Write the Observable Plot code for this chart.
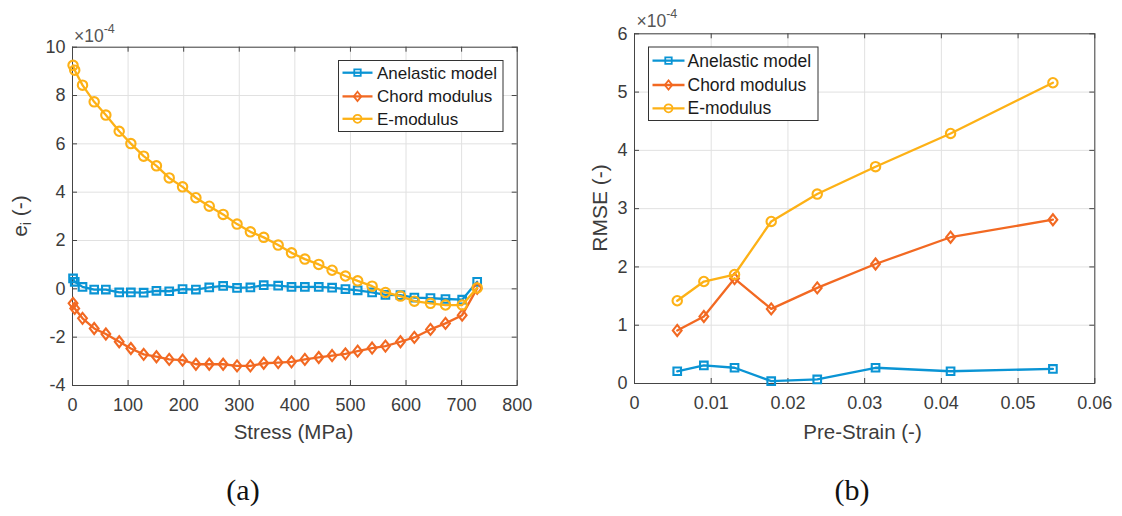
<!DOCTYPE html>
<html><head><meta charset="utf-8">
<script src="https://cdn.jsdelivr.net/npm/d3@7"></script>
<script src="https://cdn.jsdelivr.net/npm/@observablehq/plot@0.6"></script>
<style>
body{margin:0;background:#fff;}
#wrap{position:relative;width:1122px;height:516px;overflow:hidden;background:#fff;}
#wrap svg{position:absolute;}
</style></head><body><div id="wrap"></div>
<script>
// ---------- data ----------
const seriesNames = ["Anelastic model", "Chord modulus", "E-modulus"];
const seriesColors = ["#0a94d4", "#f26922", "#fdb116"];

// panel (a): e_i (x 1e-4) vs stress (MPa)
const stress = [1, 4, 18, 39, 60, 84, 105, 128, 151, 174, 198, 222, 246, 271, 296, 320,
  344, 370, 394, 418, 443, 467, 491, 513, 539, 563, 590, 615, 644, 671, 701, 728];
const eAnelastic = [0.43, 0.29, 0.08, -0.03, -0.03, -0.15, -0.15, -0.16, -0.08, -0.10, -0.01, -0.03, 0.06, 0.12, 0.04, 0.06,
  0.15, 0.13, 0.08, 0.08, 0.08, 0.05, -0.01, -0.06, -0.15, -0.25, -0.26, -0.36, -0.38, -0.42, -0.45, 0.29];
const eChord = [-0.60, -0.81, -1.22, -1.64, -1.87, -2.19, -2.47, -2.71, -2.81, -2.92, -2.95, -3.12, -3.12, -3.12, -3.19, -3.19,
  -3.08, -3.05, -3.02, -2.92, -2.84, -2.76, -2.69, -2.58, -2.45, -2.37, -2.19, -2.01, -1.68, -1.43, -1.09, 0.02];
const eEmod = [9.25, 9.05, 8.43, 7.74, 7.19, 6.52, 6.01, 5.49, 5.09, 4.59, 4.22, 3.77, 3.42, 3.08, 2.68, 2.36,
  2.13, 1.81, 1.49, 1.23, 1.01, 0.77, 0.53, 0.33, 0.11, -0.15, -0.30, -0.51, -0.60, -0.67, -0.67, 0.04];

// panel (b): RMSE (x 1e-4) vs pre-strain
const preStrain = [0.00557, 0.00904, 0.01304, 0.01782, 0.02382, 0.03142, 0.0412, 0.05454];
const rmseAnelastic = [0.21, 0.31, 0.27, 0.04, 0.07, 0.27, 0.21, 0.25];
const rmseChord = [0.91, 1.15, 1.80, 1.28, 1.64, 2.05, 2.51, 2.81];
const rmseEmod = [1.42, 1.75, 1.87, 2.78, 3.25, 3.72, 4.29, 5.16];

// ticks
const xTicksA = [0, 100, 200, 300, 400, 500, 600, 700, 800];
const yTicksA = [-4, -2, 0, 2, 4, 6, 8, 10];
const xTicksB = [0, 0.01, 0.02, 0.03, 0.04, 0.05, 0.06];
const yTicksB = [0, 1, 2, 3, 4, 5, 6];

// labels
const xLabelA = "Stress (MPa)";
const xLabelB = "Pre-Strain (-)";
const yLabelB = "RMSE (-)";
const captions = ["(a)", "(b)"];

// ---------- symbols ----------
const squareSym = {draw(ctx) { const s = 3.8; ctx.rect(-s, -s, 2 * s, 2 * s); }};
const diamondSym = {draw(ctx) { const h = 5.5, w = 4.4; ctx.moveTo(0, -h); ctx.lineTo(w, 0); ctx.lineTo(0, h); ctx.lineTo(-w, 0); ctx.closePath(); }};
const circleSym = {draw(ctx) { const r = 4.7; ctx.moveTo(r, 0); ctx.arc(0, 0, r, 0, 2 * Math.PI); }};
const symbols = [squareSym, diamondSym, circleSym];

const axisColor = "#454545";
const textColor = "#3c3c3c";
const font = "'Liberation Sans', Arial, Helvetica, sans-serif";
const fmt = d => String(d);

function toRows(xs, ys) { return xs.map((x, i) => ({x, y: ys[i]})); }

function panel({width, height, ml, mr, mt, mb, xd, yd, xt, yt, ys, xs}) {
  const pw = width - ml - mr, ph = height - mt - mb, tk = 5;
  const marks = [
    Plot.gridX(xt, {stroke: "#e1e1e1", strokeOpacity: 1}),
    Plot.gridY(yt, {stroke: "#e1e1e1", strokeOpacity: 1}),
    Plot.axisX(xt, {tickSize: 0, tickPadding: 13, tickFormat: fmt, fill: textColor}),
    Plot.axisY(yt, {tickSize: 0, tickPadding: 7, tickFormat: fmt, fill: textColor}),
    Plot.tickX(xt, {insetTop: ph - tk, stroke: axisColor}),
    Plot.tickX(xt, {insetBottom: ph - tk, stroke: axisColor}),
    Plot.tickY(yt, {insetRight: pw - tk, stroke: axisColor}),
    Plot.tickY(yt, {insetLeft: pw - tk, stroke: axisColor}),
    Plot.frame({stroke: axisColor})
  ];
  ys.forEach((vals, i) => {
    const rows = toRows(xs, vals);
    marks.push(Plot.line(rows, {x: "x", y: "y", stroke: seriesColors[i], strokeWidth: 2.3}));
    marks.push(Plot.dot(rows, {x: "x", y: "y", symbol: symbols[i], r: 4, stroke: seriesColors[i], strokeWidth: 2.1, fill: "none"}));
  });
  return Plot.plot({
    width, height, marginLeft: ml, marginRight: mr, marginTop: mt, marginBottom: mb,
    x: {domain: xd, label: null},
    y: {domain: yd, label: null},
    style: {fontFamily: font, fontSize: "18px", color: textColor, background: "transparent", overflow: "visible"},
    marks
  });
}

const wrap = document.getElementById("wrap");

const pA = panel({width: 560, height: 430, ml: 72, mr: 43.3, mt: 46.7, mb: 45,
  xd: [0, 800], yd: [-4, 10], xt: xTicksA, yt: yTicksA,
  xs: stress, ys: [eAnelastic, eChord, eEmod]});
pA.style.left = "0px"; pA.style.top = "0px";
wrap.appendChild(pA);

const pB = panel({width: 552, height: 430, ml: 64, mr: 27.7, mt: 33.3, mb: 47,
  xd: [0, 0.06], yd: [0, 6], xt: xTicksB, yt: yTicksB,
  xs: preStrain, ys: [rmseAnelastic, rmseChord, rmseEmod]});
pB.style.left = "570px"; pB.style.top = "0px";
wrap.appendChild(pB);

// ---------- overlay text + legends ----------
const ov = d3.select(wrap).append("svg")
  .attr("width", 1122).attr("height", 516)
  .style("left", "0px").style("top", "0px")
  .style("font-family", font).style("overflow", "visible");

function expLabel(x, y) {
  const t = ov.append("text").attr("x", x).attr("y", y).attr("fill", "#555").attr("font-size", 17.5);
  t.append("tspan").text("×10");
  t.append("tspan").attr("dy", -8.5).attr("font-size", 12.5).text("-4");
}
expLabel(74, 41.7);
expLabel(636.5, 26.7);

// x labels
ov.append("text").attr("x", 293.5).attr("y", 439).attr("text-anchor", "middle")
  .attr("font-size", 20.5).attr("fill", textColor).text(xLabelA);
ov.append("text").attr("x", 862.5).attr("y", 439).attr("text-anchor", "middle")
  .attr("font-size", 20.5).attr("fill", textColor).text(xLabelB);

// y labels
const yl = ov.append("text").attr("transform", "translate(27,216) rotate(-90)")
  .attr("text-anchor", "middle").attr("font-size", 21).attr("fill", textColor);
yl.append("tspan").text("e");
yl.append("tspan").attr("font-size", 14).attr("dy", 4).text("i");
yl.append("tspan").attr("dy", -4).text(" (-)");
ov.append("text").attr("transform", "translate(606.5,208) rotate(-90)")
  .attr("text-anchor", "middle").attr("font-size", 21).attr("fill", textColor).text(yLabelB);

// captions
ov.append("text").attr("x", 243).attr("y", 500).attr("text-anchor", "middle")
  .attr("font-family", "'Liberation Serif', 'DejaVu Serif', serif").attr("font-size", 30).attr("fill", "#111").text(captions[0]);
ov.append("text").attr("x", 852).attr("y", 500).attr("text-anchor", "middle")
  .attr("font-family", "'Liberation Serif', 'DejaVu Serif', serif").attr("font-size", 30).attr("fill", "#111").text(captions[1]);

// legends
function legend(x, y, w, h, rowY, lineX0, lineX1, textX, fs) {
  const g = ov.append("g").attr("transform", `translate(${x},${y})`);
  g.append("rect").attr("x", 0.5).attr("y", 0.5).attr("width", w).attr("height", h)
    .attr("fill", "#fff").attr("stroke", "#333").attr("stroke-width", 1);
  seriesNames.forEach((name, i) => {
    const ry = rowY[i];
    g.append("line").attr("x1", lineX0).attr("x2", lineX1).attr("y1", ry).attr("y2", ry)
      .attr("stroke", seriesColors[i]).attr("stroke-width", 2.3);
    const p = d3.path(); symbols[i].draw(p);
    g.append("path").attr("d", p.toString()).attr("transform", `translate(${(lineX0 + lineX1) / 2},${ry}) scale(0.85)`)
      .attr("fill", "none").attr("stroke", seriesColors[i]).attr("stroke-width", 2.1);
    g.append("text").attr("x", textX).attr("y", ry + 6).attr("font-size", fs).attr("fill", "#1a1a1a").text(name);
  });
}
legend(338, 60, 164.5, 71, [12.7, 36.4, 58.8], 4.5, 34.5, 39, 17);
legend(648, 46.5, 169.5, 73.5, [14.2, 38.5, 61.8], 4.5, 36.5, 39.5, 17.5);
</script></body></html>
